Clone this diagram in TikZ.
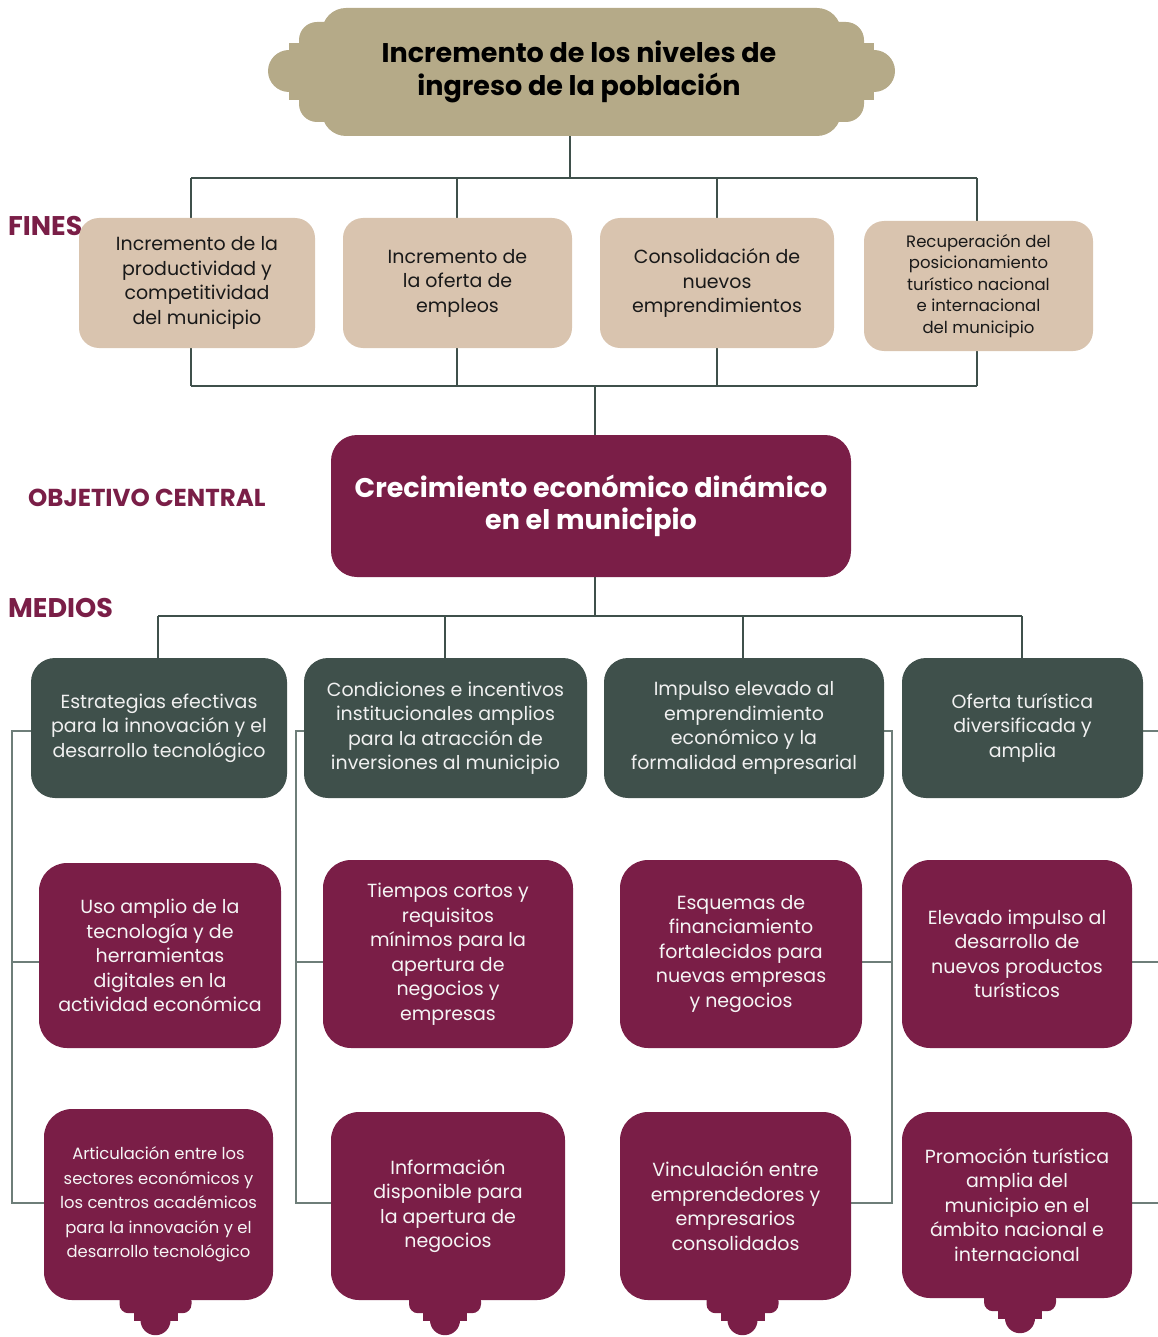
\documentclass[tikz,border=0pt]{standalone}
\usepackage{fontspec}
\setmainfont{Poppins}
\usetikzlibrary{backgrounds}
\definecolor{banner}{HTML}{B5AA88}
\definecolor{tan}{HTML}{D9C4AF}
\definecolor{maroon}{HTML}{7A1E47}
\definecolor{pine}{HTML}{3F504B}
\definecolor{wire}{HTML}{6E7E79}
\tikzset{
  x=1pt, y=-1pt,
  boxbase/.style={align=center, inner sep=0pt, anchor=center},
  finbox/.style={boxbase, fill=tan, rounded corners=20, text=black!90,
    font=\fontsize{19}{24.5}\selectfont},
  midbox/.style={boxbase, fill=pine, rounded corners=24, text=white!94!black,
    font=\fontsize{19}{24.5}\selectfont},
  subbox/.style={boxbase, fill=maroon, rounded corners=28, text=white!96!black,
    font=\fontsize{19}{24.5}\selectfont},
  sectlabel/.style={anchor=west, inner sep=0pt, text=maroon,
    font=\bfseries\fontsize{27}{30}\selectfont},
  trunk/.style={draw=pine, line width=2.4pt},
  branch/.style={draw=wire, line width=1.4pt},
  tabdeco/.pic={
    \fill[maroon, rounded corners=9] (-36,-8) rectangle (36,13);
    \fill[maroon] (-22,8) rectangle (22,21);
    \fill[maroon] (0,20) circle (15);
  }
}
\begin{document}
\begin{tikzpicture}
\useasboundingbox (0,0) rectangle (1157,1337);

% ---------- top banner ----------
\fill[banner, rounded corners=24] (322,8) rectangle (841,136);
\fill[banner, rounded corners=18] (299,22) rectangle (864,122);
\fill[banner] (289,43) rectangle (874,100);
\fill[banner] (289,71) circle (21);
\fill[banner] (874,71) circle (21);
\node[boxbase, font=\bfseries\fontsize{27}{33}\selectfont] (goal) at (579,72)
  {Incremento de los niveles de\\ingreso de la población};
\coordinate (goalb) at (570,136);

% ---------- fines ----------
\node[sectlabel] (lfines) at (8,226) {FINES};
\node[finbox, minimum width=236, minimum height=130] (f1) at (197,283)
  {Incremento de la\\productividad y\\competitividad\\del municipio};
\node[finbox, minimum width=229, minimum height=130] (f2) at (457.5,283)
  {Incremento de\\la oferta de\\empleos};
\node[finbox, minimum width=234, minimum height=130] (f3) at (717,283)
  {Consolidación de\\nuevos\\emprendimientos};
\node[finbox, minimum width=229, minimum height=130,
  font=\fontsize{16.5}{21.5}\selectfont] (f4) at (978.5,286)
  {Recuperación del\\posicionamiento\\turístico nacional\\e internacional\\del municipio};

% ---------- objetivo central ----------
\node[sectlabel, font=\bfseries\fontsize{24.5}{28}\selectfont] (lobj) at (28,498) {OBJETIVO CENTRAL};
\node[boxbase, fill=maroon, rounded corners=26, text=white,
  minimum width=520, minimum height=142,
  font=\bfseries\fontsize{27}{32}\selectfont] (obj) at (591,506)
  {Crecimiento económico dinámico\\en el municipio};

% ---------- medios ----------
\node[sectlabel] (lmed) at (8,608) {MEDIOS};
\node[midbox, minimum width=256, minimum height=140] (g1) at (159,728)
  {Estrategias efectivas\\para la innovación y el\\desarrollo tecnológico};
\node[midbox, minimum width=283, minimum height=140] (g2) at (445.5,728)
  {Condiciones e incentivos\\institucionales amplios\\para la atracción de\\inversiones al municipio};
\node[midbox, minimum width=280, minimum height=140] (g3) at (744,728)
  {Impulso elevado al\\emprendimiento\\económico y la\\formalidad empresarial};
\node[midbox, minimum width=241, minimum height=140] (g4) at (1022.5,728)
  {Oferta turística\\diversificada y\\amplia};

\node[subbox, minimum width=242, minimum height=185] (p1) at (160,955.5)
  {Uso amplio de la\\tecnología y de\\herramientas\\digitales en la\\actividad económica};
\node[subbox, minimum width=250, minimum height=188] (p2) at (448,954)
  {Tiempos cortos y\\requisitos\\mínimos para la\\apertura de\\negocios y\\empresas};
\node[subbox, minimum width=242, minimum height=188] (p3) at (741,954)
  {Esquemas de\\financiamiento\\fortalecidos para\\nuevas empresas\\y negocios};
\node[subbox, minimum width=230, minimum height=188] (p4) at (1017,954)
  {Elevado impulso al\\desarrollo de\\nuevos productos\\turísticos};

\node[subbox, minimum width=229, minimum height=191,
  font=\fontsize{16.4}{24.5}\selectfont] (q1) at (158.5,1204.5)
  {Articulación entre los\\sectores económicos y\\los centros académicos\\para la innovación y el\\desarrollo tecnológico};
\node[subbox, minimum width=234, minimum height=188] (q2) at (448,1206)
  {Información\\disponible para\\la apertura de\\negocios};
\node[subbox, minimum width=231, minimum height=188] (q3) at (735.5,1206)
  {Vinculación entre\\emprendedores y\\empresarios\\consolidados};
\node[subbox, minimum width=230, minimum height=186] (q4) at (1017,1205)
  {Promoción turística\\amplia del\\municipio en el\\ámbito nacional e\\internacional};

% decorative tabs under the last row
\path (q1.south) ++(-3,0) pic {tabdeco};
\path (q2.south) ++(-3,0) pic {tabdeco};
\path (q3.south) ++(7,0) pic {tabdeco};
\path (q4.south) ++(3,0) pic {tabdeco};

% ---------- connectors, kept behind the boxes ----------
\begin{scope}[on background layer]
  % goal -> fines -> central objective
  \coordinate (busA) at (570,178);
  \coordinate (busB) at (595,386);
  \draw[trunk] (goalb) -- (busA);
  \draw[trunk] (191,178) -- (977,178);
  \draw[trunk] (191,386) -- (977,386);
  \foreach \xx/\nd in {191/f1, 457/f2, 717/f3, 977/f4} {
    \coordinate (cc) at (\xx,178);
    \draw[trunk] (cc) -- (cc |- \nd.north);
    \draw[trunk] (cc |- \nd.south) -- (cc |- busB);
  }
  \draw[trunk] (busB) -- (busB |- obj.north);

  % central objective -> medios
  \coordinate (busC) at (595,616);
  \draw[trunk] (busC |- obj.south) -- (busC);
  \draw[trunk] (158,616) -- (1022,616);
  \foreach \xx/\nd in {158/g1, 445/g2, 743/g3, 1022/g4} {
    \coordinate (cc) at (\xx,616);
    \draw[trunk] (cc) -- (cc |- \nd.north);
  }

  % side rails linking each medio with its sub-boxes
  \coordinate (r1) at (12,0);
  \coordinate (r2) at (296,0);
  \coordinate (r3) at (892,0);
  \coordinate (r4) at (1166,0);
  \foreach \rr/\ga/\pa/\qa in {r1/g1.west/p1.west/q1.west, r2/g2.west/p2.west/q2.west,
                               r3/g3.east/p3.east/q3.east, r4/g4.east/p4.east/q4.east} {
    \draw[branch] ([yshift=-3pt]\ga) -- ([yshift=-3pt]\rr |- \ga)
      -- (\rr |- 0,1203) -- (\qa |- 0,1203);
    \draw[branch] (\rr |- 0,962) -- (\pa |- 0,962);
  }
\end{scope}
\end{tikzpicture}
\end{document}
